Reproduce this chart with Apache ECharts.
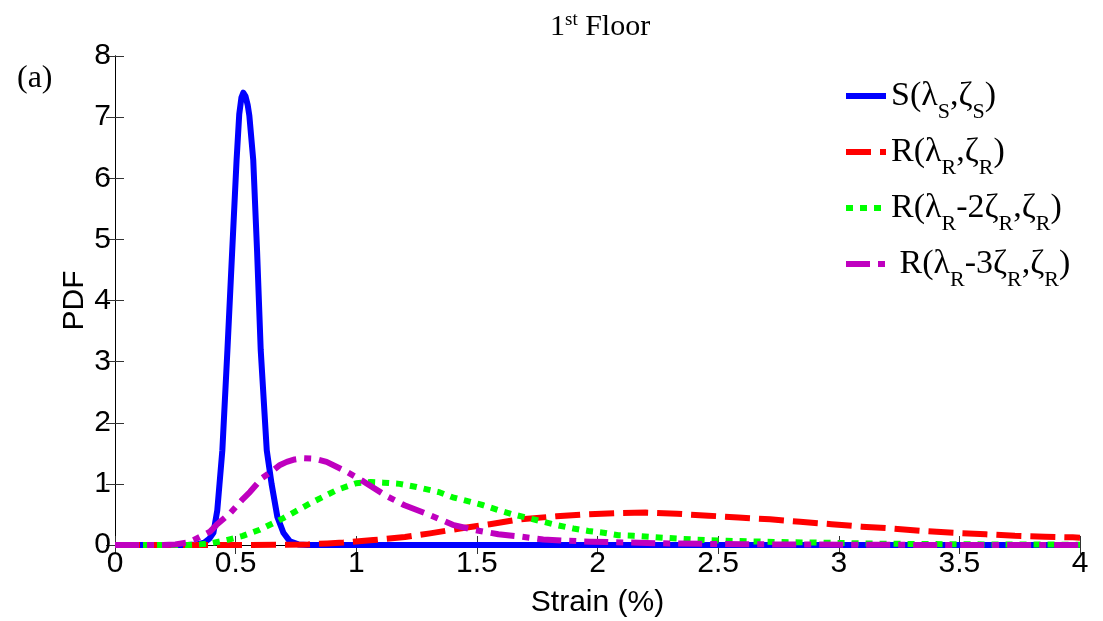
<!DOCTYPE html>
<html>
<head>
<meta charset="utf-8">
<script src="https://cdn.jsdelivr.net/npm/echarts@6/dist/echarts.min.js"></script>
<style>
html,body{margin:0;padding:0;background:#fff;}
#chart{width:1103px;height:621px;}
</style>
</head>
<body>
<div id="chart"></div>
<script>
// ---- data ----
const titleText = '{a|1}{s|st}{a| Floor}';
const panelLabel = '(a)';
const xName = 'Strain (%)';
const yName = 'PDF';
const seriesNames = ['S(λS,ζS)', 'R(λR,ζR)', 'R(λR-2ζR,ζR)', 'R(λR-3ζR,ζR)'];
const legendRich = [
  '{n|S(λ}{b|S}{n|,ζ}{b|S}{n|)}',
  '{n|R(λ}{b|R}{n|,ζ}{b|R}{n|)}',
  '{n|R(λ}{b|R}{n|-2ζ}{b|R}{n|,ζ}{b|R}{n|)}',
  '{n| R(λ}{b|R}{n|-3ζ}{b|R}{n|,ζ}{b|R}{n|)}'
];
const xTicks = [0, 0.5, 1, 1.5, 2, 2.5, 3, 3.5, 4];
const yTicks = [0, 1, 2, 3, 4, 5, 6, 7, 8];

const sX = [0, 0.1, 0.2, 0.3, 0.34, 0.37, 0.39, 0.408, 0.424, 0.445, 0.466, 0.486, 0.504, 0.515, 0.524, 0.532, 0.541, 0.55, 0.557, 0.573, 0.589, 0.604, 0.629, 0.649, 0.673, 0.698, 0.725, 0.76, 0.8, 1, 1.5, 2, 2.5, 3, 3.5, 4];
const sY = [0, 0, 0, 0, 0.01, 0.04, 0.1, 0.2, 0.57, 1.55, 3.19, 4.83, 6.3, 7.05, 7.32, 7.4, 7.34, 7.2, 7.02, 6.3, 4.8, 3.19, 1.55, 1.0, 0.46, 0.2, 0.06, 0.01, 0, 0, 0, 0, 0, 0, 0, 0];

const rX = [0, 0.5, 0.7, 0.8, 0.88, 0.946, 1.071, 1.202, 1.306, 1.43, 1.554, 1.679, 1.83, 1.94, 2.07, 2.2, 2.33, 2.46, 2.584, 2.715, 2.84, 2.97, 3.095, 3.22, 3.35, 3.475, 3.61, 3.73, 3.855, 3.97, 4.0];
const rY = [0, 0, 0.005, 0.01, 0.025, 0.04, 0.08, 0.13, 0.19, 0.27, 0.34, 0.42, 0.47, 0.5, 0.52, 0.53, 0.51, 0.48, 0.45, 0.42, 0.38, 0.34, 0.3, 0.27, 0.23, 0.2, 0.175, 0.15, 0.135, 0.125, 0.12];

const r2X = [0, 0.2, 0.3, 0.35, 0.4, 0.463, 0.53, 0.6, 0.698, 0.808, 0.919, 1.0, 1.06, 1.112, 1.18, 1.25, 1.347, 1.40, 1.47, 1.527, 1.589, 1.651, 1.713, 1.775, 1.838, 1.9, 1.962, 2.025, 2.086, 2.15, 2.27, 2.4, 2.535, 2.73, 2.9, 3.2, 3.6, 4];
const r2Y = [0, 0, 0, 0.01, 0.03, 0.08, 0.15, 0.25, 0.44, 0.68, 0.9, 1.01, 1.03, 1.02, 1.0, 0.95, 0.86, 0.78, 0.71, 0.65, 0.57, 0.5, 0.44, 0.38, 0.32, 0.27, 0.23, 0.2, 0.16, 0.15, 0.12, 0.09, 0.07, 0.05, 0.04, 0.02, 0.01, 0.005];

const r3X = [0, 0.1, 0.2, 0.25, 0.3, 0.325, 0.36, 0.394, 0.421, 0.477, 0.532, 0.56, 0.608, 0.648, 0.684, 0.712, 0.745, 0.78, 0.83, 0.877, 0.96, 1.03, 1.126, 1.2, 1.306, 1.40, 1.485, 1.589, 1.679, 1.775, 1.87, 1.97, 2.07, 2.3, 2.6, 3, 3.5, 4];
const r3Y = [0, 0, 0, 0.01, 0.04, 0.08, 0.15, 0.22, 0.33, 0.52, 0.76, 0.87, 1.09, 1.2, 1.31, 1.36, 1.4, 1.42, 1.41, 1.36, 1.2, 1.04, 0.8, 0.65, 0.49, 0.33, 0.25, 0.175, 0.14, 0.09, 0.07, 0.055, 0.045, 0.025, 0.012, 0.005, 0, 0];

// ---- build ----
const pairs = (xs, ys) => xs.map((x, i) => [x, ys[i]]);
const colors = ['#0000FF', '#FF0000', '#00FF00', '#BF00BF'];
const dashes = ['solid', [25, 9], [7, 7], [24, 8, 7, 8]];
const seriesData = [pairs(sX, sY), pairs(rX, rY), pairs(r2X, r2Y), pairs(r3X, r3Y)];

const sansFont = 'Liberation Sans';
const serifFont = 'Liberation Serif';

const axisLine = {show: true, lineStyle: {color: '#000', width: 1}};
const tick = {show: true, inside: true, length: 9, lineStyle: {color: '#333', width: 1}};
const tickLabel = {fontFamily: sansFont, fontSize: 30, color: '#000'};

const chart = echarts.init(document.getElementById('chart'), null, {renderer: 'canvas'});
chart.setOption({
  animation: false,
  backgroundColor: '#fff',
  title: [
    {
      text: titleText, left: 545, top: 6,
      textStyle: {
        fontWeight: 'normal',
        rich: {
          a: {fontFamily: serifFont, fontSize: 30, fontWeight: 'normal', color: '#000'},
          s: {fontFamily: serifFont, fontSize: 19, fontWeight: 'normal', color: '#000', padding: [0, 0, 14, 0]}
        }
      }
    },
    {
      text: panelLabel, left: 12, top: 58,
      textStyle: {fontFamily: serifFont, fontSize: 32, fontWeight: 'normal', color: '#000'}
    }
  ],
  legend: {
    orient: 'vertical',
    left: 838,
    top: 64,
    itemWidth: 40,
    itemHeight: 14,
    itemGap: 2,
    data: seriesNames,
    selectedMode: false,
    itemStyle: {color: 'rgba(0,0,0,0)', borderColor: 'rgba(0,0,0,0)', borderWidth: 0},
    lineStyle: {width: 6},
    formatter: function (name) { return legendRich[seriesNames.indexOf(name)]; },
    textStyle: {
      rich: {
        n: {fontFamily: serifFont, fontSize: 34, color: '#000', lineHeight: 38},
        b: {fontFamily: serifFont, fontSize: 22, color: '#000', lineHeight: 16, padding: [32, 0, 0, 0]}
      }
    }
  },
  grid: {left: 115, right: 23, top: 56, bottom: 76, containLabel: false, outerBoundsMode: 'none'},
  xAxis: [
    {
      type: 'value', position: 'bottom', min: xTicks[0], max: xTicks[xTicks.length - 1], interval: 0.5,
      axisLine: axisLine, axisTick: tick, splitLine: {show: false},
      axisLabel: Object.assign({margin: 4}, tickLabel),
      name: xName, nameLocation: 'middle', nameGap: 43, nameMoveOverlap: false,
      nameTextStyle: {fontFamily: sansFont, fontSize: 30, color: '#000'}
    },
    {
      type: 'value', position: 'top', min: xTicks[0], max: xTicks[xTicks.length - 1], interval: 0.5,
      axisLine: axisLine, axisTick: tick, splitLine: {show: false}, axisLabel: {show: false}
    }
  ],
  yAxis: [
    {
      type: 'value', position: 'left', min: yTicks[0], max: yTicks[yTicks.length - 1], interval: 1,
      axisLine: axisLine, axisTick: tick, splitLine: {show: false},
      axisLabel: Object.assign({margin: 4}, tickLabel),
      name: yName, nameLocation: 'middle', nameGap: 25, nameRotate: 90, nameMoveOverlap: false,
      nameTextStyle: {fontFamily: sansFont, fontSize: 30, color: '#000'}
    },
    {
      type: 'value', position: 'right', min: yTicks[0], max: yTicks[yTicks.length - 1], interval: 1,
      axisLine: axisLine, axisTick: tick, splitLine: {show: false}, axisLabel: {show: false}
    }
  ],
  series: seriesNames.map((name, i) => ({
    name: name,
    type: 'line',
    xAxisIndex: 0,
    yAxisIndex: 0,
    data: seriesData[i],
    showSymbol: false,
    symbol: 'none',
    smooth: false,
    clip: true,
    color: colors[i],
    lineStyle: {color: colors[i], width: 6, type: dashes[i], cap: 'butt', join: 'round'},
    z: 2 + i
  }))
});
</script>
</body>
</html>
